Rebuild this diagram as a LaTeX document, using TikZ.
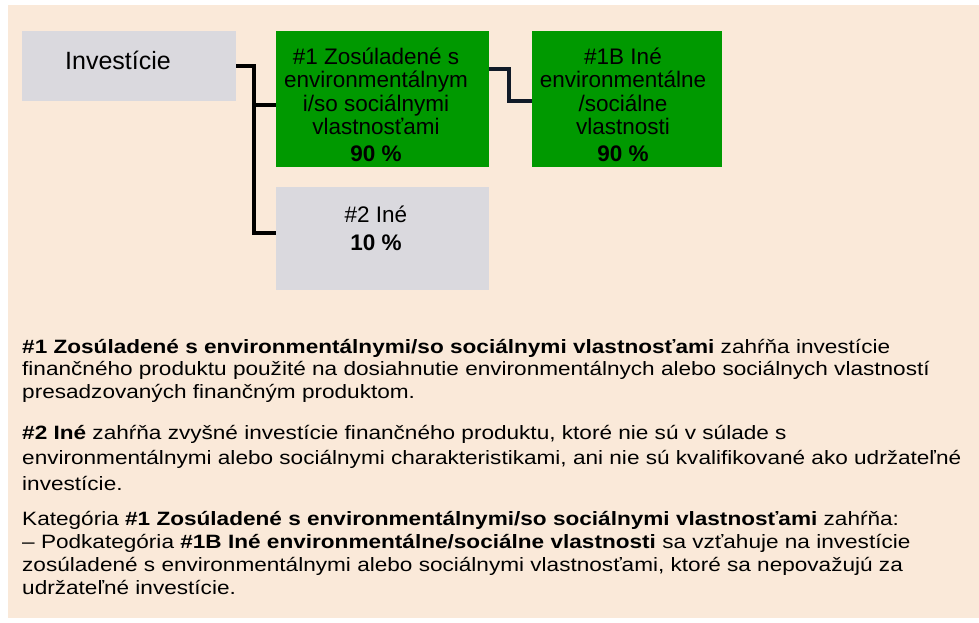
\documentclass[tikz,border=0pt]{standalone}
\usepackage{fontspec}
\setmainfont{Liberation Sans}
\newfontfamily\bodyfont{Liberation Sans}[FakeStretch=1.17]
\definecolor{bg}{RGB}{250,233,217}
\definecolor{boxgray}{RGB}{218,217,222}
\definecolor{boxgreen}{RGB}{0,153,0}
\definecolor{wiretwo}{RGB}{16,26,40}
\begin{document}
\begin{tikzpicture}[x=1pt,y=-1pt,
  box/.style={draw=none, inner sep=0, outer sep=0, anchor=north west},
  boxtext/.style={align=center, inner sep=0, anchor=base, font=\fontsize{22.5}{23.3}\selectfont},
  para/.style={align=left, inner sep=0, anchor=base west, font=\bodyfont\fontsize{19.3}{22.5}\selectfont},
  wire/.style={line width=4pt, black},
  wireb/.style={line width=4pt, wiretwo}]
\useasboundingbox[fill=white] (0,0) rectangle (979,622);
\fill[bg] (8,5) rectangle (979,618);
% boxes
\node[box, fill=boxgray, minimum width=214, minimum height=70] (inv) at (22,31) {};
\node[box, fill=boxgreen, minimum width=213, minimum height=136] (g1) at (276,31) {};
\node[box, fill=boxgray, minimum width=213, minimum height=103] (o2) at (276,187) {};
\node[box, fill=boxgreen, minimum width=190, minimum height=136] (g1b) at (532,31) {};
% box texts (base anchor = baseline of last line)
\node[boxtext, font=\fontsize{25}{26}\selectfont] (tinv) at (118,69) {Investície};
\node[boxtext] (tg1) at (376,161) {\#1 Zosúladené s\\environmentálnym\\i/so sociálnymi\\vlastnosťami\\[3.4pt]\textbf{90 \%}};
\node[boxtext] (tg1b) at (623,161) {\#1B Iné\\environmentálne\\/sociálne\\vlastnosti\\[3.4pt]\textbf{90 \%}};
\node[boxtext] (to2) at (376,250.7) {\#2 Iné\\[4.7pt]\textbf{10 \%}};
% connectors
\draw[wire] (inv.east) -- ++(17.5,0) |- ([yshift=5.5pt]o2.west);
\draw[wire] ([yshift=-6pt]g1.west) -- ++(-22.5,0);
\draw[wireb] ([yshift=29.7pt]g1.east) -- ++(20,0) |- ([yshift=-1.7pt]g1b.west);
% paragraphs
\node[para] (p1) at (22,398.3) {\textbf{\#1 Zosúladené s environmentálnymi/so sociálnymi vlastnosťami} zahŕňa investície\\finančného produktu použité na dosiahnutie environmentálnych alebo sociálnych vlastností\\presadzovaných finančným produktom.};
\node[para, font=\bodyfont\fontsize{19.3}{25.5}\selectfont] (p2) at (22,490) {\textbf{\#2 Iné} zahŕňa zvyšné investície finančného produktu, ktoré nie sú v súlade s\\environmentálnymi alebo sociálnymi charakteristikami, ani nie sú kvalifikované ako udržateľné\\investície.};
\node[para, font=\bodyfont\fontsize{19.3}{22.9}\selectfont] (p3) at (22,594.3) {Kategória \textbf{\#1 Zosúladené s environmentálnymi/so sociálnymi vlastnosťami} zahŕňa:\\– Podkategória \textbf{\#1B Iné environmentálne/sociálne vlastnosti} sa vzťahuje na investície\\zosúladené s environmentálnymi alebo sociálnymi vlastnosťami, ktoré sa nepovažujú za\\udržateľné investície.};
\end{tikzpicture}
\end{document}
